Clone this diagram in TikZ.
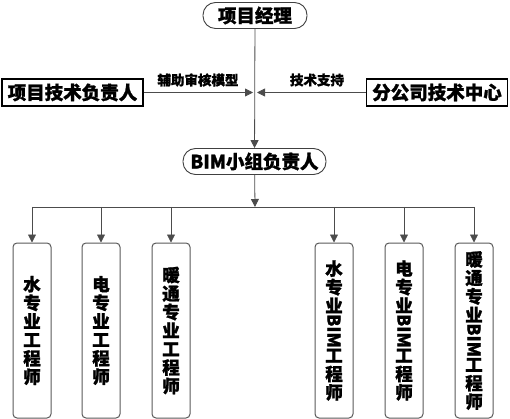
\documentclass[tikz,border=0pt]{standalone}
\usepackage{fontspec}
\newfontfamily\cjk[BoldFeatures={FakeBold=1.2}]{Noto Sans CJK SC}
\usetikzlibrary{arrows.meta}
\def\bim{\rotatebox[origin=c]{-90}{BIM}}

\begin{document}
\begin{tikzpicture}[x=1pt,y=1pt]
\tikzstyle{every node}+=[inner sep=0pt]
\tikzstyle{pill}=[draw=black!75, line width=0.9pt, rounded corners=12.5pt, minimum height=26pt, font=\cjk\bfseries\fontsize{18.5}{18.5}\selectfont]
\tikzstyle{side}=[draw=black, line width=1.6pt, minimum height=27pt, minimum width=141pt, font=\cjk\bfseries\fontsize{18.5}{18.5}\selectfont]
\tikzstyle{job}=[draw=black!65, line width=1pt, rounded corners=4pt, minimum width=38pt, minimum height=175pt, align=center, font=\cjk\bfseries\fontsize{17.5}{18.5}\selectfont]
\tikzstyle{note}=[font=\cjk\bfseries\fontsize{13.5}{13.5}\selectfont]
\tikzstyle{link}=[draw=black!70, line width=0.8pt]
\tikzstyle{tip}=[-{Triangle[length=8pt,width=8pt]}]
\useasboundingbox (0,0) rectangle (510,-419);
\node [pill, minimum width=104pt] (pm) at (255,-15.5) {项目经理};
\node [side] (tech) at (72.5,-92.5) {项目技术负责人};
\node [side] (branch) at (437,-92.5) {分公司技术中心};
\node [note] (assist) at (198,-80) {辅助审核模型};
\node [note] (support) at (317,-80) {技术支持};
\node [pill, minimum width=143pt] (lead) at (254.5,-161.5) {BIM小组负责人};
\coordinate (hub) at (255,-92.5);
\coordinate (bus) at (255,-207);
\node [job] (w1) at (32,-330.5) {水\\专\\业\\工\\程\\师};
\node [job] (w2) at (101,-330.5) {电\\专\\业\\工\\程\\师};
\node [job] (w3) at (171,-330.5) {暖\\通\\专\\业\\工\\程\\师};
\node [job] (w4) at (334,-330.5) {水\\专\\业\\\bim\\工\\程\\师};
\node [job] (w5) at (404,-330.5) {电\\专\\业\\\bim\\工\\程\\师};
\node [job] (w6) at (474,-330.5) {暖\\通\\专\\业\\\bim\\工\\程\\师};
\draw [link, tip] (pm) -- (lead);
\draw [link, tip, shorten >=2pt] (tech) -- (hub);
\draw [link, tip, shorten >=2pt] (branch) -- (hub);
\draw [link, tip] (lead) -- (bus);
\draw [link] (w1 |- bus) -- (w6 |- bus);
\foreach \n in {w1,w2,w3,w4,w5,w6}
  \draw [link, tip] (\n |- bus) -- (\n);
\end{tikzpicture}
\end{document}
